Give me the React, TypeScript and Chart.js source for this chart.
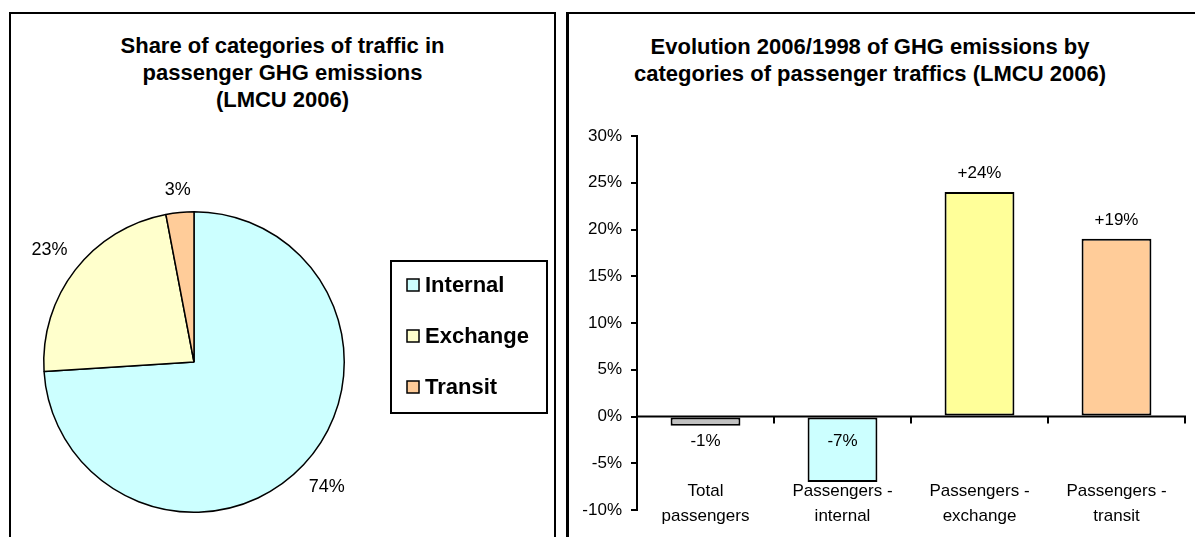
import React, { useEffect, useRef } from 'react';
import { Chart, registerables } from 'chart.js';

Chart.register(...registerables);

const FONT = "'Liberation Sans', Arial, sans-serif";

// ---- Pie chart data ----
const pieTitle = ['Share of categories of traffic in', 'passenger GHG emissions', '(LMCU 2006)'];
const pieLabels = ['Internal', 'Exchange', 'Transit'];
const pieValues = [74, 23, 3];
const pieColors = ['#ccffff', '#ffffcc', '#ffcc99'];

// ---- Bar chart data ----
const barTitle = ['Evolution 2006/1998 of GHG emissions by', 'categories of passenger traffics (LMCU 2006)'];
const barCategories = [
  ['Total', 'passengers'],
  ['Passengers -', 'internal'],
  ['Passengers -', 'exchange'],
  ['Passengers -', 'transit'],
];
const barValues = [-1, -7, 24, 19];
const barColors = ['#c0c0c0', '#ccffff', '#ffff99', '#ffcc99'];
const yMin = -10;
const yMax = 30;
const yStep = 5;

const pieLabelPlugin = {
  id: 'pieOuterLabels',
  afterDatasetsDraw(chart: any) {
    const ctx = chart.ctx;
    const meta = chart.getDatasetMeta(0);
    ctx.save();
    ctx.font = `18px ${FONT}`;
    ctx.fillStyle = '#000';
    ctx.textAlign = 'center';
    ctx.textBaseline = 'middle';
    meta.data.forEach((arc: any, i: number) => {
      const p = arc.getProps(['x', 'y', 'startAngle', 'endAngle', 'outerRadius'], true);
      const mid = (p.startAngle + p.endAngle) / 2;
      const text = chart.data.datasets[0].data[i] + '%';
      const w = ctx.measureText(text).width;
      const h = 14;
      const c = Math.cos(mid);
      const s = Math.sin(mid);
      const R = p.outerRadius + 14 + (Math.abs(c) * w) / 2 + (Math.abs(s) * h) / 2;
      ctx.fillText(text, p.x + R * c, p.y + R * s);
    });
    ctx.restore();
  },
};

const pieLegendPlugin = {
  id: 'boxedLegend',
  afterDraw(chart: any) {
    const ctx = chart.ctx;
    const bx = 380;
    const by = 247;
    const bw = 156;
    const bh = 152;
    const labels: string[] = chart.data.labels;
    const colors: string[] = chart.data.datasets[0].backgroundColor;
    ctx.save();
    ctx.lineWidth = 2;
    ctx.strokeStyle = '#000';
    ctx.strokeRect(bx, by, bw, bh);
    ctx.font = `bold 22px ${FONT}`;
    ctx.textBaseline = 'middle';
    ctx.textAlign = 'left';
    labels.forEach((lab, i) => {
      const cy = by + 24 + i * 51;
      ctx.fillStyle = colors[i];
      ctx.fillRect(bx + 16, cy - 6, 12, 12);
      ctx.lineWidth = 1.5;
      ctx.strokeRect(bx + 16, cy - 6, 12, 12);
      ctx.fillStyle = '#000';
      ctx.fillText(lab, bx + 34, cy + 1);
    });
    ctx.restore();
  },
};

const barExtrasPlugin = {
  id: 'barExtras',
  afterDatasetsDraw(chart: any) {
    const { ctx, chartArea } = chart;
    const x = chart.scales.x;
    const y = chart.scales.y;
    const y0 = y.getPixelForValue(0);
    const n = chart.data.labels.length;
    ctx.save();
    ctx.strokeStyle = '#000';
    ctx.lineWidth = 2;
    ctx.beginPath();
    ctx.moveTo(chartArea.left, y0);
    ctx.lineTo(chartArea.right + 1, y0);
    for (let i = 1; i <= n; i++) {
      const bx = i < n ? (x.getPixelForValue(i - 1) + x.getPixelForValue(i)) / 2 : chartArea.right;
      ctx.moveTo(bx, y0);
      ctx.lineTo(bx, y0 + 7);
    }
    ctx.stroke();

    const meta = chart.getDatasetMeta(0);
    ctx.font = `17px ${FONT}`;
    ctx.fillStyle = '#000';
    ctx.textAlign = 'center';
    ctx.textBaseline = 'middle';
    meta.data.forEach((bar: any, i: number) => {
      const p = bar.getProps(['x', 'y', 'base'], true);
      const v = chart.data.datasets[0].data[i];
      const text = (v > 0 ? '+' : '') + v + '%';
      if (v >= 0) ctx.fillText(text, p.x, p.y - 19);
      else ctx.fillText(text, p.x, p.base + 24);
    });
    ctx.restore();
  },
};

export default function App() {
  const pieRef = useRef<HTMLCanvasElement>(null);
  const barRef = useRef<HTMLCanvasElement>(null);

  useEffect(() => {
    Chart.defaults.font.family = FONT;
    Chart.defaults.color = '#000';

    const pie = new Chart(pieRef.current as HTMLCanvasElement, {
      type: 'pie',
      data: {
        labels: pieLabels,
        datasets: [
          {
            data: pieValues,
            backgroundColor: pieColors,
            borderColor: '#000',
            borderWidth: 1.5,
          },
        ],
      },
      options: {
        responsive: false,
        animation: false,
        layout: { padding: { left: 32, right: 209, top: 197, bottom: 24 } },
        plugins: {
          legend: { display: false },
          tooltip: { enabled: false },
          title: { display: false },
        },
      },
      plugins: [pieLabelPlugin, pieLegendPlugin],
    } as any);

    const bar = new Chart(barRef.current as HTMLCanvasElement, {
      type: 'bar',
      data: {
        labels: barCategories,
        datasets: [
          {
            data: barValues,
            backgroundColor: barColors,
            borderColor: '#000',
            borderWidth: 2,
            borderSkipped: false,
            barPercentage: 0.51,
            categoryPercentage: 1,
          },
        ],
      },
      options: {
        responsive: false,
        animation: false,
        layout: { padding: { left: 0, right: 10, top: 122, bottom: 0 } },
        plugins: {
          legend: { display: false },
          tooltip: { enabled: false },
          title: { display: false },
        },
        scales: {
          x: {
            grid: { display: false, drawTicks: false },
            border: { display: false },
            ticks: {
              font: { size: 17, lineHeight: 1.47 },
              color: '#000',
              mirror: true,
              padding: 6,
              maxRotation: 0,
              autoSkip: false,
            },
            afterFit: (s: any) => {
              s.height = 27;
            },
          },
          y: {
            min: yMin,
            max: yMax,
            ticks: {
              stepSize: yStep,
              callback: (v: any) => v + '%',
              font: { size: 17 },
              color: '#000',
              padding: 9,
            },
            grid: {
              drawOnChartArea: false,
              drawTicks: true,
              tickLength: 6,
              color: '#000',
              lineWidth: 2,
            },
            border: { display: true, color: '#000', width: 2 },
            afterFit: (s: any) => {
              s.width = 68;
            },
          },
        },
      },
      plugins: [barExtrasPlugin],
    } as any);

    return () => {
      pie.destroy();
      bar.destroy();
    };
  }, []);

  const titleStyle: React.CSSProperties = {
    position: 'absolute',
    fontFamily: FONT,
    fontWeight: 'bold',
    fontSize: 22,
    lineHeight: '27px',
    textAlign: 'center',
    color: '#000',
    whiteSpace: 'nowrap',
  };

  return (
    <div
      style={{
        position: 'absolute',
        left: 0,
        top: 0,
        width: 1195,
        height: 537,
        overflow: 'hidden',
        background: '#fff',
      }}
    >
      <div
        style={{
          position: 'absolute',
          left: 9,
          top: 12,
          width: 547,
          height: 600,
          boxSizing: 'border-box',
          border: '2px solid #000',
        }}
      />
      <div
        style={{
          position: 'absolute',
          left: 566,
          top: 12,
          width: 700,
          height: 600,
          boxSizing: 'border-box',
          borderTop: '2px solid #000',
          borderLeft: '3px solid #000',
        }}
      />
      <div style={{ ...titleStyle, left: 9, width: 547, top: 32 }}>
        {pieTitle.map((t, i) => (
          <div key={i}>{t}</div>
        ))}
      </div>
      <div style={{ ...titleStyle, left: 570, width: 600, top: 33 }}>
        {barTitle.map((t, i) => (
          <div key={i}>{t}</div>
        ))}
      </div>
      <canvas
        ref={pieRef}
        width={543}
        height={523}
        style={{ position: 'absolute', left: 11, top: 14, width: 543, height: 523 }}
      />
      <canvas
        ref={barRef}
        width={626}
        height={523}
        style={{ position: 'absolute', left: 569, top: 14, width: 626, height: 523 }}
      />
    </div>
  );
}
